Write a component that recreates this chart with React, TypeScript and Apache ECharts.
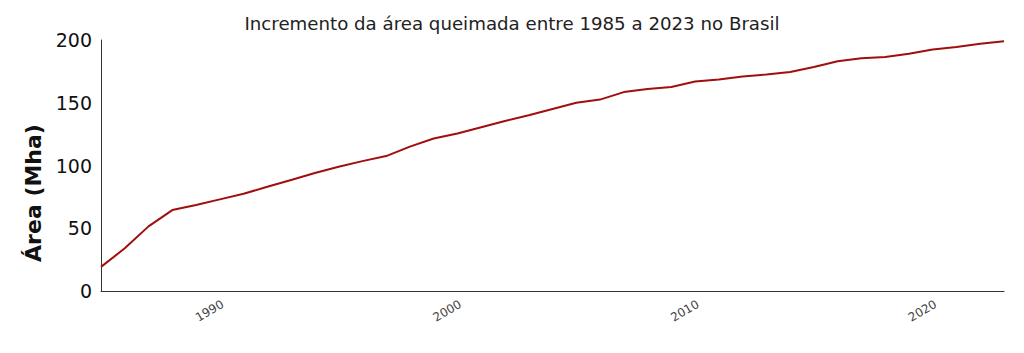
import React, { useEffect, useRef } from "react";
import * as echarts from "echarts";

const years: string[] = [
  "1985","1986","1987","1988","1989","1990","1991","1992","1993","1994",
  "1995","1996","1997","1998","1999","2000","2001","2002","2003","2004",
  "2005","2006","2007","2008","2009","2010","2011","2012","2013","2014",
  "2015","2016","2017","2018","2019","2020","2021","2022","2023",
];

const areaMha: number[] = [
  19.2, 34, 51.5, 64.5, 68.5, 73, 77.5, 83, 88.5, 94,
  99, 103.5, 107.5, 115, 121.5, 125.5, 130.5, 135.5, 140, 145,
  150, 152.5, 158.5, 161, 162.5, 167, 168.5, 171, 172.5, 174.5,
  178.5, 183, 185.5, 186.5, 189, 192.5, 194.5, 197, 199,
];

const yTicks = { min: 0, max: 200, interval: 50 };
const titleText = "Incremento da área queimada entre 1985 a 2023 no Brasil";
const yName = "Área (Mha)";

export default function App() {
  const ref = useRef<HTMLDivElement>(null);
  useEffect(() => {
    if (!ref.current) return;
    const chart = echarts.init(ref.current, undefined, { renderer: "svg" });
    chart.setOption({
      animation: false,
      backgroundColor: "#ffffff",
      textStyle: { fontFamily: "DejaVu Sans" },
      title: {
        text: titleText,
        left: "center",
        top: 9,
        textStyle: { fontSize: 18.2, fontWeight: "normal", color: "#222", fontFamily: "DejaVu Sans" },
      },
      graphic: [
        {
          type: "text",
          x: 33,
          y: 193,
          rotation: Math.PI / 2,
          style: {
            text: yName,
            fontSize: 22,
            fontWeight: "bold",
            fill: "#111",
            fontFamily: "DejaVu Sans",
            textAlign: "center",
            textVerticalAlign: "middle",
          },
        },
      ],
      grid: { left: 101, right: 20, top: 40, bottom: 62, containLabel: false },
      xAxis: {
        type: "category",
        data: years,
        boundaryGap: false,
        axisLine: { show: true, lineStyle: { color: "#333", width: 1 } },
        axisTick: { show: false },
        axisLabel: {
          interval: (_i: number, v: string) => Number(v) % 10 === 0,
          rotate: 30,
          fontSize: 12,
          color: "#444",
          margin: 7,
          verticalAlign: "top",
          fontFamily: "DejaVu Sans",
        },
        splitLine: { show: false },
      },
      yAxis: {
        type: "value",
        min: yTicks.min,
        max: yTicks.max,
        interval: yTicks.interval,
        axisLine: { show: true, lineStyle: { color: "#333", width: 1 } },
        axisTick: { show: false },
        axisLabel: { fontSize: 19, color: "#111", margin: 9, fontFamily: "DejaVu Sans" },
        splitLine: { show: false },
      },
      series: [
        {
          type: "line",
          data: areaMha,
          showSymbol: false,
          lineStyle: { color: "#a00e0e", width: 2 },
          itemStyle: { color: "#a00e0e" },
        },
      ],
    });
    return () => chart.dispose();
  }, []);
  return <div ref={ref} style={{ width: 1024, height: 353, position: "absolute", left: 0, top: 0 }} />;
}
